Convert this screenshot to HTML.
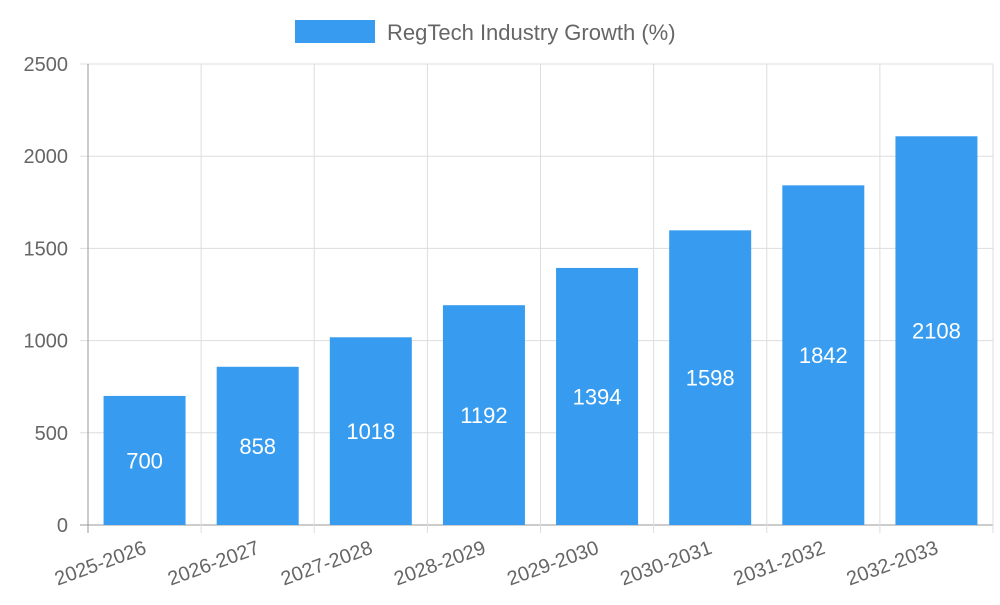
<!DOCTYPE html>
<html><head><meta charset="utf-8"><style>
body{margin:0;background:#fff;font-family:"Liberation Sans",sans-serif}
svg text{font-family:"Liberation Sans",sans-serif}
</style></head><body>
<svg id="c" width="1000" height="600">
<g>
<rect x="295" y="20" width="80" height="23" fill="#379cf0"/>
<text x="387" y="40" font-size="22" fill="#666">RegTech Industry Growth (%)</text>
</g>
<g id="grid"></g><g id="bars"></g><g id="labels"></g>
</svg>
<script>
const categories=["2025-2026","2026-2027","2027-2028","2028-2029","2029-2030","2030-2031","2031-2032","2032-2033"];
const values=[700,858,1018,1192,1394,1598,1842,2108];
const yTicks=[0,500,1000,1500,2000,2500];
const NS="http://www.w3.org/2000/svg";
const L=88,R=993,T=64,B=525,yMax=2500;
const y=v=>B-(v/yMax)*(B-T);
const bw=(R-L)/categories.length;
const x=i=>L+bw*i;
function mk(t,a,p){const e=document.createElementNS(NS,t);for(const k in a)e.setAttribute(k,a[k]);p.appendChild(e);return e;}
const g=document.getElementById('grid'),gb=document.getElementById('bars'),gl=document.getElementById('labels');
yTicks.forEach(v=>{
const ln=mk('line',{x1:L-8,x2:R,y1:y(v),y2:y(v),stroke:v===0?'#999':'#ddd','stroke-width':1},g);


const t=mk('text',{x:L-20,y:y(v)+7,'text-anchor':'end','font-size':20,fill:'#666'},g);
t.textContent=v;


});
for(let i=0;i<=categories.length;i++){
const ln=mk('line',{x1:x(i),x2:x(i),y1:T,y2:B+8,stroke:i===0?'#999':'#ddd','stroke-width':1},g);


}
categories.forEach((c,i)=>{
const cx=x(i)+bw/2,w=82,v=values[i];
const r=mk('rect',{x:cx-w/2,y:y(v),width:w,height:B-y(v),fill:'#379cf0'},gb);


const t=mk('text',{x:cx,y:(y(v)+B)/2+8,'text-anchor':'middle','font-size':22,fill:'#fff'},gl);
t.textContent=v;


const xl=mk('text',{x:cx+3,y:B+28,'text-anchor':'end','font-size':20,fill:'#666',transform:`rotate(-20 ${cx+3} ${B+28})`},gl);
xl.textContent=c;


});
</script>
</body></html>
